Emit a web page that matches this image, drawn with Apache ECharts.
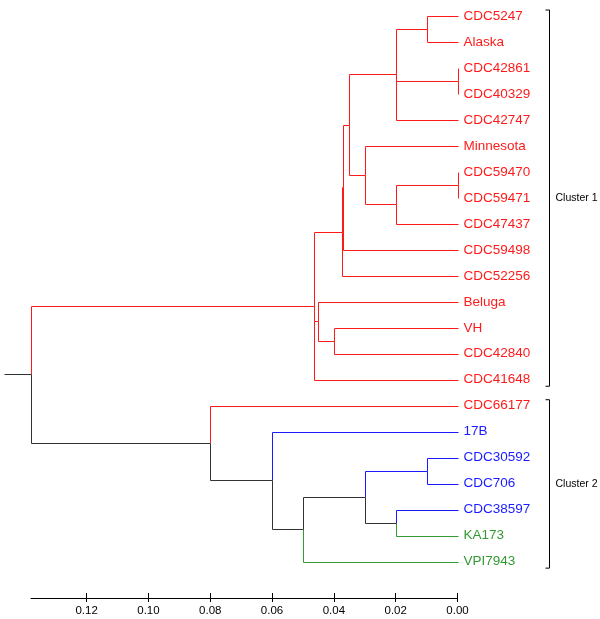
<!DOCTYPE html>
<html>
<head>
<meta charset="utf-8">
<script src="https://cdn.jsdelivr.net/npm/echarts@6/dist/echarts.min.js"></script>
<style>html,body{margin:0;padding:0;background:#fff}#c{width:600px;height:619px}</style>
</head>
<body>
<div id="c"></div>
<script>
// ---- data ----
const leafNames = ['CDC5247','Alaska','CDC42861','CDC40329','CDC42747','Minnesota','CDC59470','CDC59471','CDC47437','CDC59498','CDC52256','Beluga','VH','CDC42840','CDC41648','CDC66177','17B','CDC30592','CDC706','CDC38597','KA173','VPI7943'];
const leafLineage = [0,0,0,0,0,0,0,0,0,0,0,0,0,0,0,0,1,1,1,1,2,2];
const nodeChildren = [
  ['L0','L1'], ['L2','L3'], ['N0','N1','L4'], ['L6','L7'], ['N3','L8'], ['L5','N4'],
  ['N2','N5'], ['N6','L9'], ['N7','L10'], ['L12','L13'], ['L11','N9'], ['N8','N10','L14'],
  ['L17','L18'], ['L19','L20'], ['N12','N13'], ['N14','L21'], ['L16','N15'], ['L15','N16'],
  ['N11','N17']
];
const nodeHeights = [0.01,0,0.02,0,0.02,0.03,0.035,0.0371,0.0373,0.04,0.045,0.0465,0.01,0.02,0.03,0.05,0.06,0.08,0.138];
const rootStubEnd = 0.1468;
const tickValues = [0,0.02,0.04,0.06,0.08,0.10,0.12];
const tickLabels = ['0.00','0.02','0.04','0.06','0.08','0.10','0.12'];
const clusterNames = ['Cluster 1','Cluster 2'];
const clusterFirst = [0,15];
const clusterLast = [14,21];

// ---- styles ----
const lineageColors = ['#ff1a1a','#1a1aff','#339933'];
const mixedColor = '#333333';
const FONT = '"Liberation Sans", Arial, sans-serif';

// ---- build segments from tree ----
const info = {};
function getInfo(id) {
  if (info[id]) return info[id];
  let r;
  if (id[0] === 'L') {
    const i = +id.slice(1);
    r = {h: 0, y: i, color: leafLineage[i]};
  } else {
    const k = +id.slice(1);
    const ch = nodeChildren[k].map(c => getInfo(c));
    const cols = new Set(ch.map(c => c.color));
    r = {h: nodeHeights[k], y: (ch[0].y + ch[ch.length-1].y)/2, color: cols.size === 1 ? ch[0].color : 3};
  }
  info[id] = r;
  return r;
}
const segments = [];
nodeChildren.forEach((children, k) => {
  const n = getInfo('N' + k);
  children.forEach(cid => {
    const c = getInfo(cid);
    if (c.y !== n.y) segments.push([n.h, c.y, n.h, n.y, c.color]);   // vertical
    if (c.h !== n.h) segments.push([n.h, c.y, c.h, c.y, c.color]);   // horizontal
  });
});
const root = getInfo('N' + (nodeChildren.length - 1));
segments.push([rootStubEnd, root.y, root.h, root.y, 3]);

const colorOf = i => i === 3 ? mixedColor : lineageColors[i];
const px = v => Math.round(v) + 0.5;

const chart = echarts.init(document.getElementById('c'), null, {renderer: 'canvas'});
chart.setOption({
  animation: false,
  backgroundColor: '#fff',
  grid: {left: 31, right: 142.5, top: 16, bottom: 21, containLabel: false},
  xAxis: [{
    type: 'value', inverse: true, min: 0, max: 0.138, position: 'bottom',
    splitLine: {show: false},
    axisLine: {show: true, onZero: false, lineStyle: {color: '#000', width: 1}},
    axisTick: {show: true, length: 4, lineStyle: {color: '#000'}, customValues: tickValues},
    axisLabel: {show: true, customValues: tickValues, margin: 7, color: '#000', fontSize: 11.5, fontFamily: FONT,
      formatter: v => { const i = tickValues.findIndex(t => Math.abs(t - v) < 1e-9); return i >= 0 ? tickLabels[i] : ''; }}
  }, {
    type: 'value', inverse: true, min: 0, max: 0.138, position: 'bottom',
    splitLine: {show: false},
    axisLine: {show: false, onZero: false},
    axisTick: {show: true, inside: true, length: 5, lineStyle: {color: '#000'}, customValues: tickValues},
    axisLabel: {show: false}
  }],
  yAxis: {type: 'value', inverse: true, min: 0, max: 22.4, show: false},
  series: [{
    type: 'custom', clip: false, silent: true,
    encode: {x: [0, 2], y: [1, 3]},
    data: segments,
    renderItem: (params, api) => {
      const s = segments[params.dataIndex];
      const p1 = api.coord([s[0], s[1]]);
      const p2 = api.coord([s[2], s[3]]);
      return {type: 'line', shape: {x1: px(p1[0]), y1: px(p1[1]), x2: px(p2[0]), y2: px(p2[1])},
        style: {stroke: colorOf(s[4]), lineWidth: 1}};
    }
  }, {
    type: 'custom', clip: false, silent: true,
    encode: {x: 0, y: 1},
    data: leafNames.map((n, i) => [0, i]),
    renderItem: (params, api) => {
      const i = params.dataIndex;
      const p = api.coord([0, i]);
      return {type: 'text', x: p[0] + 6, y: p[1],
        style: {text: leafNames[i], fill: lineageColors[leafLineage[i]], fontSize: 13.5, fontFamily: FONT, verticalAlign: 'middle', align: 'left'}};
    }
  }, {
    type: 'custom', clip: false, silent: true,
    encode: {x: 0, y: [1, 2]},
    data: clusterNames.map((n, i) => [0, clusterFirst[i], clusterLast[i]]),
    renderItem: (params, api) => {
      const i = params.dataIndex;
      const a = api.coord([0, clusterFirst[i]]);
      const b = api.coord([0, clusterLast[i]]);
      const x = Math.round(a[0] + 91) + 0.5;
      const y1 = a[1] - 6, y2 = b[1] + 6.5;
      return {type: 'group', children: [
        {type: 'polyline', shape: {points: [[x - 4, y1], [x, y1], [x, y2], [x - 4, y2]]}, style: {stroke: '#000', lineWidth: 1, fill: null}},
        {type: 'text', x: x + 6, y: (y1 + y2) / 2, style: {text: clusterNames[i], fill: '#000', fontSize: 10.5, fontFamily: FONT, verticalAlign: 'middle', align: 'left'}}
      ]};
    }
  }]
});
</script>
</body>
</html>
